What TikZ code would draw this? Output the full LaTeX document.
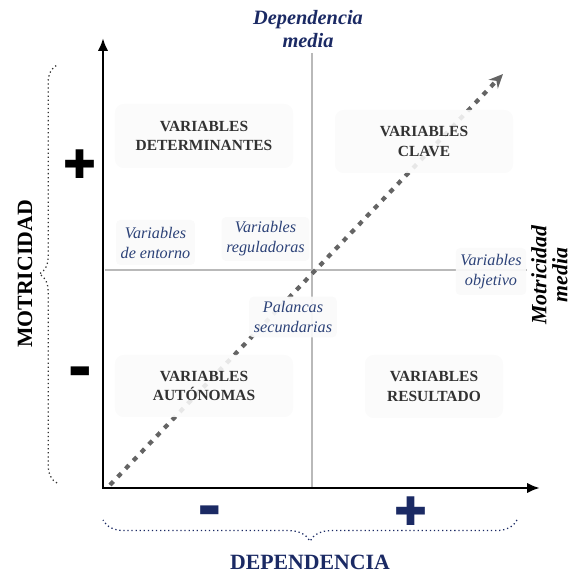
\documentclass[tikz,border=0pt]{standalone}
\usepackage{fontspec}
\setmainfont{Liberation Serif}
\newfontfamily\symbolfont{DejaVu Sans}
\usepackage{tikz}
\usetikzlibrary{arrows.meta,positioning,decorations.pathreplacing}
\definecolor{navy}{RGB}{27,42,100}
\definecolor{labelblue}{RGB}{44,66,120}
\definecolor{quadgray}{RGB}{50,50,50}
\definecolor{boxfill}{RGB}{250,250,250}
\definecolor{trendgray}{RGB}{100,100,100}

\begin{document}
\begin{tikzpicture}[
  quad/.style={fill=boxfill, fill opacity=0.88, text opacity=1, rounded corners=6pt, align=center, text=quadgray, font=\fontsize{11}{14}\selectfont\bfseries},
  tag/.style={fill=boxfill, fill opacity=0.93, text opacity=1, rounded corners=3pt, align=center, text=labelblue, font=\fontsize{11.5}{14.2}\selectfont\itshape},
  axis/.style={{Latex[length=3.2mm,width=2.6mm]}-{Latex[length=3.2mm,width=2.6mm]}, line width=2pt, line join=miter},
  median/.style={gray!55, line width=1pt},
  trend/.style={-{Stealth[length=10pt,width=9pt]}, trendgray, line width=3pt, dash pattern=on 3.5pt off 4.5pt},
  plussign/.style={font=\symbolfont\fontsize{28}{28}\selectfont},
  minussign/.style={font=\symbolfont\fontsize{17}{17}\selectfont},
  curly/.style={decorate, dotted, line width=0.9pt}
]
\useasboundingbox (-2.575,-2.2) rectangle (11.75,12.2);

% axes and medians
\coordinate (o) at (0,0);
\coordinate (ytop) at (0,11.25);
\coordinate (xend) at (10.925,0);
\coordinate (mtop) at (5.225,10.875);
\coordinate (mbot) at (5.225,0);
\coordinate (mleft) at (0.05,5.45);
\coordinate (mright) at (10.6,5.45);
\draw[median] (mtop) -- (mbot);
\draw[median] (mleft) -- (mright);
\draw[axis] (ytop) -- (o) -- (xend);

% trend
\coordinate (dstart) at (0.175,0.075);
\coordinate (dend) at (10.0,10.35);
\draw[trend] (dstart) -- (dend);

% quadrants
\node[quad, minimum width=4.45cm, minimum height=1.6cm] (det) at (2.525,8.8) {VARIABLES\\DETERMINANTES};
\node[quad, minimum width=4.45cm, minimum height=1.575cm] (clave) at (8.025,8.6625) {VARIABLES\\CLAVE};
\node[quad, minimum width=4.45cm, minimum height=1.55cm] (aut) at (2.525,2.55) {VARIABLES\\AUTÓNOMAS};
\node[quad, minimum width=3.45cm, minimum height=1.575cm] (res) at (8.275,2.5375) {VARIABLES\\RESULTADO};

% labels on the medians
\node[tag, minimum width=1.875cm, minimum height=1.125cm] (entorno) at (1.3125,6.1375) {Variables\\de entorno};
\node[tag, minimum width=2.125cm, minimum height=1.05cm] (regul) at (4.0625,6.225) {Variables\\reguladoras};
\node[tag, minimum width=1.7cm, minimum height=1.175cm] (objet) at (9.7,5.4125) {Variables\\objetivo};
\node[tag, minimum width=2.15cm, minimum height=1.0cm] (palanc) at (4.75,4.275) {Palancas\\secundarias};

% titles
\node[font=\fontsize{14.5}{17}\selectfont\bfseries\itshape, text=navy, align=center] (depmid) at (5.125,11.475) {Dependencia\\media};
\node[rotate=90, font=\fontsize{15.5}{15}\selectfont\bfseries\itshape, align=center, inner sep=1pt] (motmid) at (11.16,5.325) {Motricidad\\media};
\node[rotate=90, font=\fontsize{15.5}{18}\selectfont\bfseries] (mot) at (-1.95,5.35) {MOTRICIDAD};
\node[font=\fontsize{15.5}{18}\selectfont\bfseries, text=navy] (dep) at (5.175,-1.85) {DEPENDENCIA};

% signs
\node[plussign] (mplus) at (-0.5875,8.1) {✚};
\node[minussign] (mminus) at (-0.575,2.9) {▬};
\node[minussign, text=navy] (dminus) at (2.6625,-0.575) {▬};
\node[plussign, text=navy] (dplus) at (7.6875,-0.575) {✚};

% braces
\coordinate (lbot) at (-1.15,0.125);
\coordinate (ltop) at (-1.15,10.575);
\coordinate (bright) at (10.35,-0.8);
\coordinate (bleft) at (0,-0.8);
\draw[curly, black!80, decoration={brace, amplitude=0.44cm}] (lbot) -- (ltop);
\draw[curly, navy, decoration={brace, amplitude=0.53cm}] (bright) -- (bleft);
\end{tikzpicture}
\end{document}
